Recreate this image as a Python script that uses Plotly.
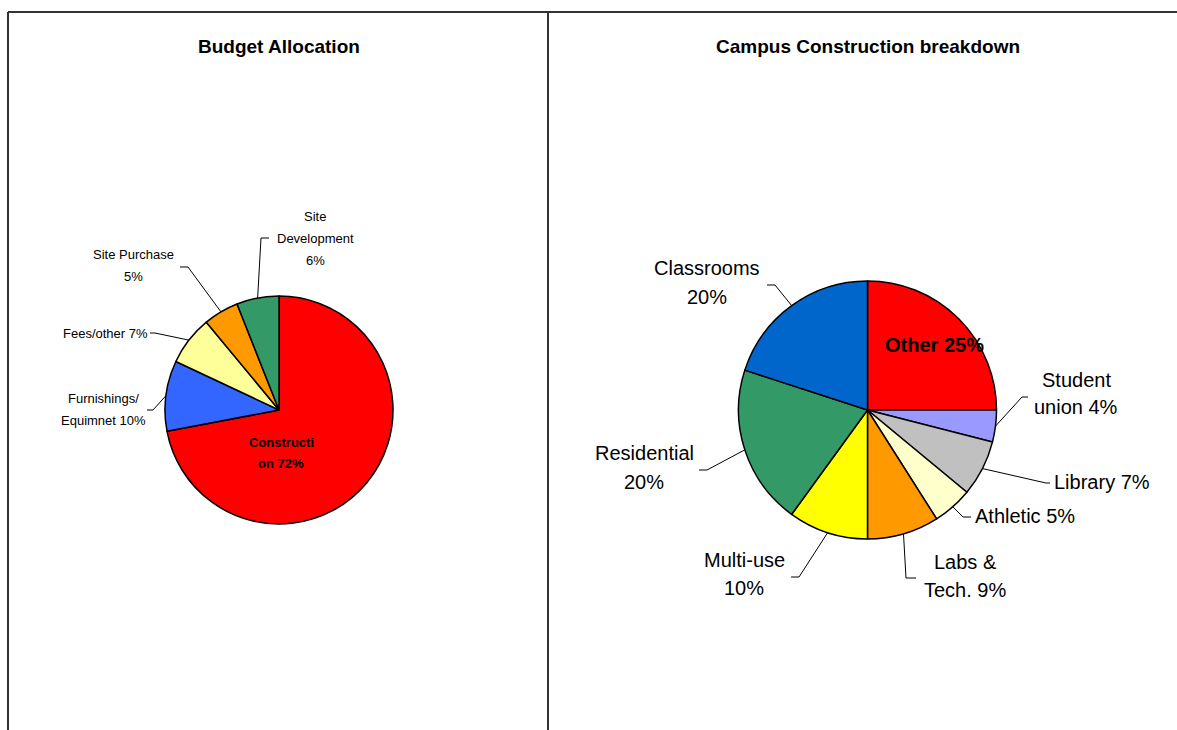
import math
import plotly.graph_objects as go

W, H = 1177, 730

# ---- data ----
budget_labels = ["Construction", "Furnishings/Equimnet", "Fees/other", "Site Purchase", "Site Development"]
budget_values = [72, 10, 7, 5, 6]
budget_text = ["Constructi|on {}%", "Furnishings/|Equimnet {}%", "Fees/other {}%", "Site Purchase|{}%", "Site|Development|{}%"]

campus_labels = ["Other", "Student union", "Library", "Athletic", "Labs & Tech.", "Multi-use", "Residential", "Classrooms"]
campus_values = [25, 4, 7, 5, 9, 10, 20, 20]
campus_text = ["Other {}%", "Student|union {}%", "Library {}%", "Athletic {}%", "Labs &|Tech. {}%",
               "Multi-use|{}%", "Residential|{}%", "Classrooms|{}%"]

budget_colors = ["#FF0000", "#3366FF", "#FFFF99", "#FF9900", "#339966"]
campus_colors = ["#FF0000", "#9999FF", "#C0C0C0", "#FFFFCC", "#FF9900", "#FFFF00", "#339966", "#0066CC"]

FONT = "Liberation Sans, Arial, sans-serif"

# label placement in pixels: (x, first line y, align, line step, leader elbow, leader end x)
budget_place = [
    (281, 442, "center", 21, None, None),
    (103, 398, "center", 22, (153, 410), 147),
    (150, 333, "right", 22, (155, 333), 150),
    (133, 254, "center", 22, (188, 267), 180),
    (315, 216, "center", 22, (261, 238), 269),
]
campus_place = [
    (934, 345, "center", 28, None, None),
    (1076, 380, "center", 27, (1022, 397), 1028),
    (1052, 482, "left", 28, (1046, 483), 1050),
    (973, 516, "left", 28, (963, 517), 971),
    (965, 562, "center", 28, (906, 578), 916),
    (744, 560, "center", 28, (799, 577), 791),
    (644, 453, "center", 29, (707, 470), 699),
    (707, 268, "center", 29, (775, 285), 767),
]

fig = go.Figure()


def add_pie(labels, values, colors, texts, place, cx, cy, r, title, small, inside):
    fig.add_trace(go.Pie(
        labels=labels, values=values, sort=False, direction="clockwise", rotation=0,
        marker=dict(colors=colors, line=dict(color="black", width=1.5)),
        textinfo="none", showlegend=False,
        domain=dict(x=[(cx - r) / W, (cx + r) / W], y=[(H - cy - r) / H, (H - cy + r) / H]),
    ))
    total = sum(values)
    cum = 0
    lx, ly = [], []
    for i, v in enumerate(values):
        mid = (cum + v / 2) / total * 360
        cum += v
        ang = math.radians(90 - mid)
        rx, ry = cx + r * math.cos(ang), cy - r * math.sin(ang)
        x, y, align, step, elbow, endx = place[i]
        if elbow is not None:
            lx += [rx, elbow[0], endx, None]
            ly += [ry, elbow[1], elbow[1], None]
        lines = texts[i].format(v).split("|")
        for j, line in enumerate(lines):
            fig.add_annotation(
                x=x, y=y + j * step, xref="x", yref="y", text=line, showarrow=False,
                xanchor=align, yanchor="middle",
                font=dict(family=FONT, size=inside if elbow is None else small, color="black",
                          weight="bold" if elbow is None else "normal"),
            )
    fig.add_trace(go.Scatter(x=lx, y=ly, mode="lines", line=dict(color="black", width=1),
                             hoverinfo="skip", showlegend=False))
    fig.add_annotation(x=cx, y=46, xref="x", yref="y", text=title, showarrow=False,
                       xanchor="center", yanchor="middle",
                       font=dict(family=FONT, size=19, color="black", weight="bold"))


add_pie(budget_labels, budget_values, budget_colors, budget_text, budget_place,
        279, 410, 114, "Budget Allocation", 13, 13)
add_pie(campus_labels, campus_values, campus_colors, campus_text, campus_place,
        867.5, 410, 129, "Campus Construction breakdown", 20, 20)

# table borders
for x0, y0, x1, y1 in [(8, 12, 1177, 12), (8, 12, 8, 730), (548, 12, 548, 730)]:
    fig.add_shape(type="line", x0=x0, y0=y0, x1=x1, y1=y1, xref="x", yref="y",
                  line=dict(color="#333333", width=2))

fig.update_layout(
    width=W, height=H, margin=dict(l=0, r=0, t=0, b=0),
    paper_bgcolor="white", plot_bgcolor="white",
    xaxis=dict(range=[0, W], visible=False, fixedrange=True),
    yaxis=dict(range=[H, 0], visible=False, fixedrange=True),
)

fig.write_html("out.html", config={"displayModeBar": False},
               post_script="document.body.style.margin='0';")
